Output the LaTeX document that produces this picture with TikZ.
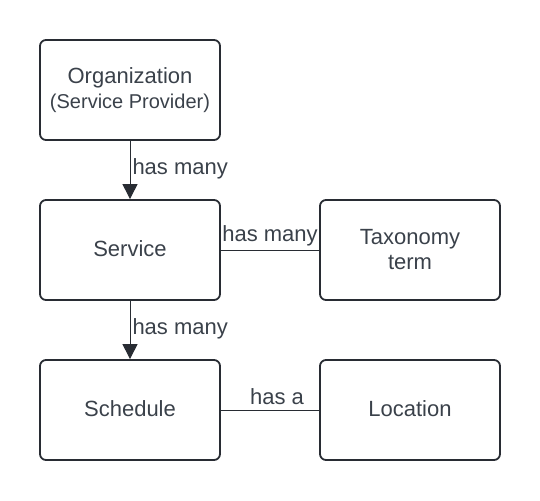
\documentclass[tikz,border=0pt]{standalone}
\usepackage{fontspec}
\setmainfont{Liberation Sans}
\usetikzlibrary{arrows.meta}
\definecolor{ink}{HTML}{282C33}
\definecolor{txt}{HTML}{3A414A}
\begin{document}
\begin{tikzpicture}[x=1pt,y=-1pt,
  box/.style={draw=ink,line width=1.8pt,rounded corners=6pt,minimum width=180pt,minimum height=100pt,inner sep=0pt,text=txt,font=\fontsize{22}{26}\selectfont,align=center},
  conn/.style={draw=ink,line width=1pt},
  arr/.style={conn,-{Triangle[length=15pt,width=15pt]}},
  lab/.style={text=txt,font=\fontsize{22}{26}\selectfont,inner sep=0pt}]
\useasboundingbox (0,0) rectangle (540,500);
\node[box] (org) at (130,90) {Organization\\[-1pt]{\fontsize{20}{24}\selectfont(Service Provider)}};
\node[box] (svc) at (130,250) {\raisebox{3pt}{Service}};
\node[box] (tax) at (410,250) {Taxonomy\\[-1pt]term};
\node[box] (sch) at (130,410) {\raisebox{3pt}{Schedule}};
\node[box] (loc) at (410,410) {\raisebox{3pt}{Location}};
\draw[arr] (org.south) -- (svc.north) node[lab,midway,anchor=west,xshift=2pt,yshift=1pt] {has many};
\draw[arr] (svc.south) -- (sch.north) node[lab,midway,anchor=west,xshift=2pt,yshift=1pt] {has many};
\draw[conn] (svc.east) -- (tax.east -| tax.west) node[lab,midway,anchor=south,yshift=3pt] {has many};
\draw[conn] (sch.east) -- (loc.east -| loc.west) node[lab,midway,anchor=south,yshift=5pt,xshift=7pt] {has a};
\end{tikzpicture}
\end{document}
